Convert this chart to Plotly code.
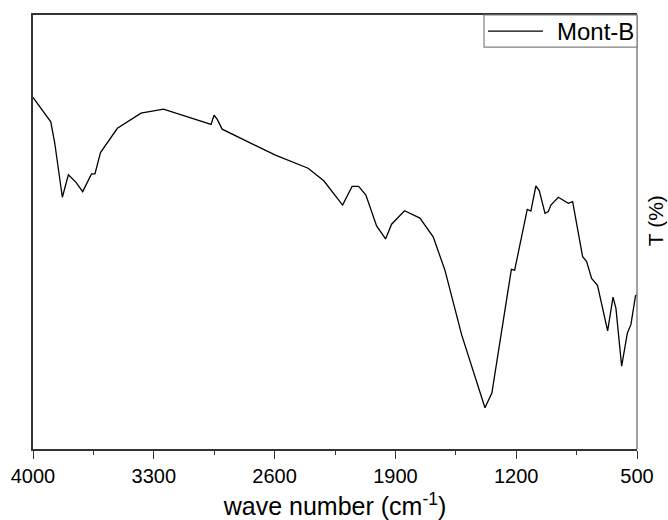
import plotly.graph_objects as go

wavenumber = [4000, 3897, 3874, 3830, 3795, 3752, 3712, 3661, 3641, 3609, 3511, 3374, 3244,
              2968, 2951, 2933, 2904, 2595, 2406, 2315, 2206, 2151, 2113, 2071, 2009, 1957,
              1922, 1847, 1758, 1681, 1613, 1516, 1381, 1341, 1228, 1209, 1136, 1115, 1086,
              1066, 1033, 1014, 999, 956, 898, 873, 815, 792, 763, 729, 670, 639, 622, 589,
              556, 535, 509, 500]
transmittance = [81.0, 75.4, 70.5, 58.0, 63.2, 61.5, 59.3, 63.4, 63.4, 68.3, 73.9, 77.4, 78.3,
                 74.8, 76.9, 76.0, 73.7, 67.7, 64.7, 61.8, 56.2, 60.5, 60.5, 58.5, 51.4, 48.4,
                 51.8, 54.9, 53.2, 48.9, 41.2, 26.3, 9.5, 12.9, 41.4, 41.2, 55.2, 54.8, 60.6,
                 59.5, 54.3, 54.7, 56.2, 58.0, 56.6, 57.0, 44.3, 43.2, 39.3, 37.7, 27.2, 35.0,
                 32.4, 19.1, 26.7, 28.7, 35.3, 35.5]
tick_vals = [4000, 3300, 2600, 1900, 1200, 500]
minor_vals = [3650, 2950, 2250, 1550, 850]
series_name = "Mont-B"

fig = go.Figure()
fig.add_trace(go.Scatter(x=wavenumber, y=transmittance, mode="lines", name=series_name,
                         line=dict(color="black", width=1.3), showlegend=False))

font_family = "Arial, Liberation Sans, sans-serif"

# legend box drawn in paper coordinates (top-right corner of the plot)
leg_x0, leg_y0 = 0.7467, 0.926
leg_line_x0, leg_line_x1, leg_line_y = 0.7533, 0.8444, 0.963

fig.update_layout(
    width=668, height=520,
    margin=dict(l=33, r=31, t=15, b=71, autoexpand=False),
    plot_bgcolor="white", paper_bgcolor="white",
    font=dict(family=font_family, color="black", size=20),
    showlegend=False,
    xaxis=dict(range=[4000, 500], tickvals=tick_vals, ticks="outside", ticklen=8,
               tickwidth=1.3, tickcolor="#333", showline=True, linecolor="#333",
               linewidth=1.5, mirror=True, showgrid=False, zeroline=False,
               automargin=False, tickfont=dict(size=20),
               minor=dict(tickvals=minor_vals, ticks="outside",
                          ticklen=4, tickwidth=1.3, tickcolor="#333"),
               title=dict(text="wave number (cm<sup>-1</sup>)", font=dict(size=25), standoff=12)),
    yaxis=dict(range=[0, 100], showticklabels=False, ticks="", showline=True,
               linecolor="#333", linewidth=1.5, showgrid=False, zeroline=False,
               automargin=False),
    shapes=[
        dict(type="line", xref="paper", yref="paper", x0=1, x1=1, y0=0, y1=1,
             line=dict(color="#808080", width=1.5)),
        dict(type="rect", xref="paper", yref="paper", x0=leg_x0, x1=1, y0=leg_y0, y1=1,
             line=dict(color="#808080", width=1.2), fillcolor="white", layer="above"),
        dict(type="line", xref="paper", yref="paper", x0=leg_line_x0, x1=leg_line_x1,
             y0=leg_line_y, y1=leg_line_y, line=dict(color="black", width=1.3), layer="above"),
    ],
    annotations=[
        dict(text="T (%)", xref="paper", yref="paper", x=1, y=0.525,
             xanchor="center", yanchor="middle", xshift=18, textangle=-90,
             showarrow=False, font=dict(size=21)),
        dict(text=series_name, xref="paper", yref="paper", x=1, y=leg_line_y,
             xanchor="right", yanchor="middle", xshift=-1, showarrow=False,
             font=dict(size=24)),
    ],
)

fig.write_html("out.html", config={"displayModeBar": False},
               post_script="document.body.style.margin='0';")
